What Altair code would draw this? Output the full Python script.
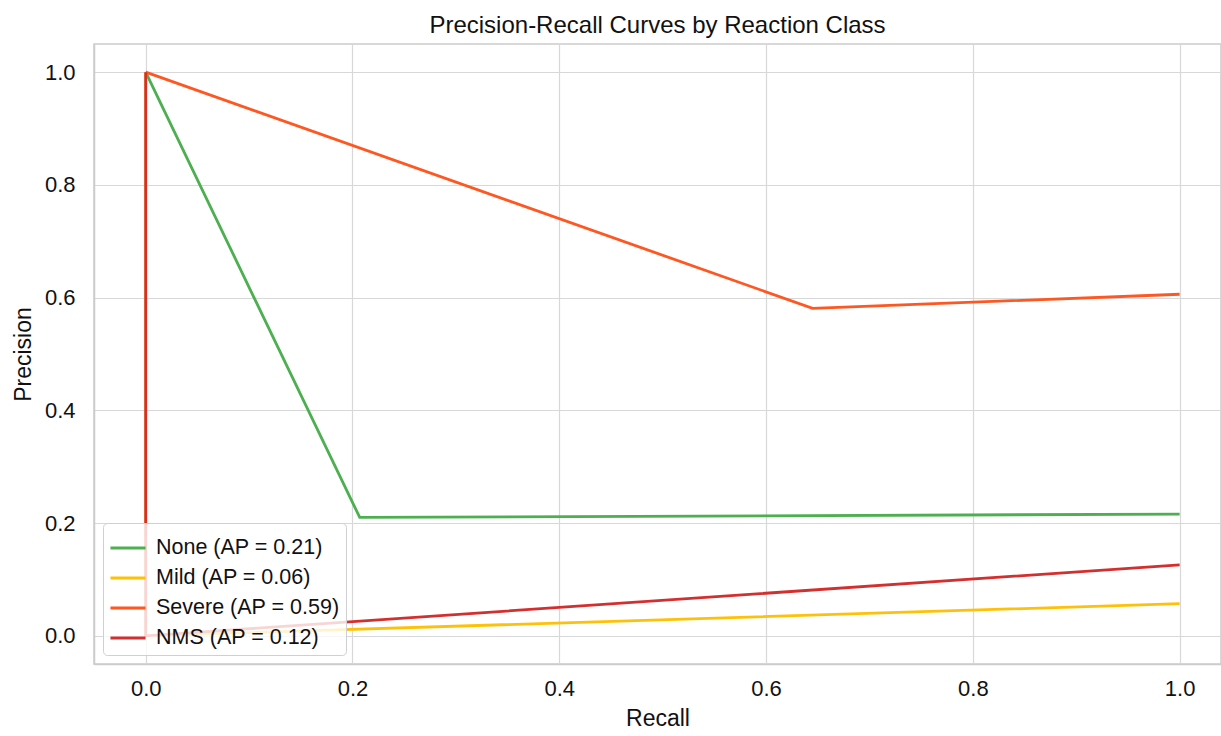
import altair as alt
import pandas as pd

classes = ["None (AP = 0.21)", "Mild (AP = 0.06)", "Severe (AP = 0.59)", "NMS (AP = 0.12)"]
colors = ["#4CAF50", "#FFC107", "#FF5722", "#D32F2F"]

none_recall = [1.0, 0.207, 0.0]
none_precision = [0.216, 0.210, 1.0]
mild_recall = [1.0, 0.0, 0.0]
mild_precision = [0.057, 0.0, 1.0]
severe_recall = [1.0, 0.645, 0.0]
severe_precision = [0.606, 0.581, 1.0]
nms_recall = [1.0, 0.0, 0.0]
nms_precision = [0.126, 0.0, 1.0]

series = [
    (classes[0], none_recall, none_precision),
    (classes[1], mild_recall, mild_precision),
    (classes[2], severe_recall, severe_precision),
    (classes[3], nms_recall, nms_precision),
]
rows = []
for name, rec, prec in series:
    for i, (r, p) in enumerate(zip(rec, prec)):
        rows.append({"cls": name, "recall": r, "precision": p, "step": i})
df = pd.DataFrame(rows)

ticks = [0.0, 0.2, 0.4, 0.6, 0.8, 1.0]
FONT = "Liberation Sans"

chart = alt.Chart(df).mark_line(strokeWidth=2.8, clip=True).encode(
    x=alt.X("recall:Q", title="Recall",
            scale=alt.Scale(domain=[-0.05, 1.04], nice=False, zero=False),
            axis=alt.Axis(values=ticks, format=".1f", labelPadding=14, titlePadding=8)),
    y=alt.Y("precision:Q", title="Precision",
            scale=alt.Scale(domain=[-0.05, 1.05], nice=False, zero=False),
            axis=alt.Axis(values=ticks, format=".1f", labelPadding=19, titlePadding=9)),
    color=alt.Color("cls:N", title=None,
                    scale=alt.Scale(domain=classes, range=colors),
                    sort=classes,
                    legend=alt.Legend(orient="bottom-left", offset=9,
                                      symbolType="stroke", symbolSize=1230,
                                      symbolStrokeWidth=2.8, labelFontSize=21.5,
                                      labelFont=FONT, labelColor="#111111",
                                      labelLimit=400, rowPadding=0,
                                      fillColor="rgba(255,255,255,0.8)",
                                      strokeColor="#d0d0d0", cornerRadius=4,
                                      padding=6, labelOffset=9)),
    order=alt.Order("step:Q"),
).properties(
    width=1127,
    height=620,
    title=alt.TitleParams("Precision-Recall Curves by Reaction Class",
                          fontSize=24, font=FONT, fontWeight="normal",
                          color="#111111", offset=6),
    padding={"left": 94, "top": 44, "right": 0, "bottom": 72},
    autosize="none",
).configure_view(
    stroke="#cccccc", strokeWidth=1.5
).configure_axis(
    grid=True, gridColor="#d8d8d8", gridWidth=1.2,
    domainColor="#cccccc", domainWidth=1.5,
    ticks=False,
    labelFont=FONT, labelFontSize=22, labelColor="#111111",
    titleFont=FONT, titleFontSize=23, titleFontWeight="normal", titleColor="#111111",
)

chart.save("out.html", embed_options={"renderer": "svg", "actions": False})
